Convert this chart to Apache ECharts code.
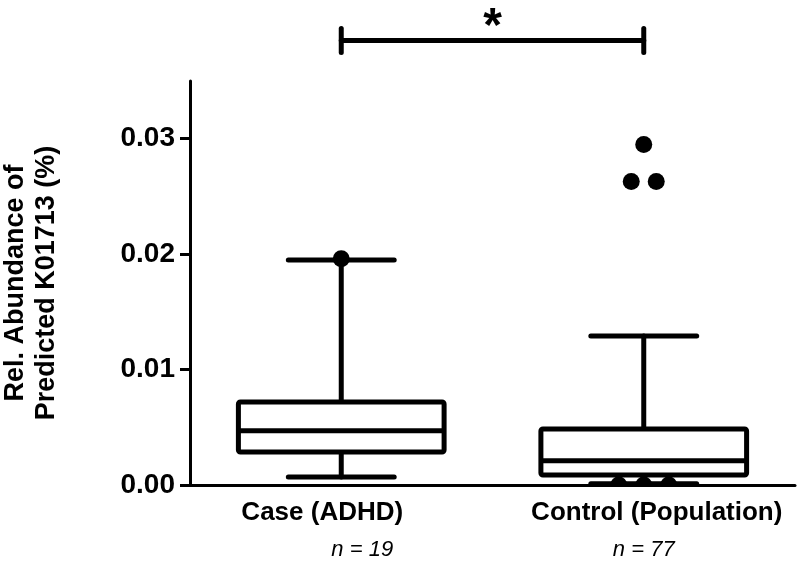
<!DOCTYPE html>
<html>
<head>
<meta charset="utf-8">
<script src="https://cdn.jsdelivr.net/npm/echarts@6/dist/echarts.min.js"></script>
<style>
html,body{margin:0;padding:0;background:#fff;}
#chart{width:800px;height:577px;}
</style>
</head>
<body>
<div id="chart"></div>
<script>
// ---- data ----
const categories = ['Case (ADHD)', 'Control (Population)'];
const groupSizes = ['n = 19', 'n = 77'];
// [lower whisker, Q1, median, Q3, upper whisker]
const caseBox = [0.0007, 0.00286, 0.0047, 0.0072, 0.0195];
const controlBox = [0.0001, 0.00087, 0.0021, 0.00486, 0.0129];
// outliers: [category index, value]
const outlierPoints = [[0, 0.0196], [1, 0.0295], [1, 0.0263], [1, 0.0263], [1, 0], [1, 0], [1, 0]];
const outlierJitter = [0, 0, -0.5, 0.5, -1, 0, 1];
const yTickValues = [0, 0.01, 0.02, 0.03];
const yMax = 0.035;
// significance bracket between categories 0 and 1
const sigPair = [0, 1];
const sigLevel = 0.0385;
const sigText = '*';

const FONT = '"Liberation Sans", Arial, sans-serif';
const chart = echarts.init(document.getElementById('chart'), null, {renderer: 'canvas'});

const boxData = [caseBox, controlBox].map((s, i) => [i].concat(s));
const outlierData = outlierPoints.map((p, k) => [p[0], p[1], outlierJitter[k]]);

function renderBox(params, api) {
  const i = api.value(0);
  const x = api.coord([i, 0])[0];
  const band = api.size([1, 0])[0];
  const boxW = band * 0.68, capW = band * 0.35;
  const y = [1, 2, 3, 4, 5].map(d => api.coord([i, api.value(d)])[1]);
  const st = {stroke: '#000', lineWidth: 5, lineCap: 'round', fill: null};
  return {
    type: 'group',
    children: [
      {type: 'line', shape: {x1: x, y1: y[4], x2: x, y2: y[3]}, style: st},
      {type: 'line', shape: {x1: x, y1: y[1], x2: x, y2: y[0]}, style: st},
      {type: 'line', shape: {x1: x - capW / 2, y1: y[4], x2: x + capW / 2, y2: y[4]}, style: st},
      {type: 'line', shape: {x1: x - capW / 2, y1: y[0], x2: x + capW / 2, y2: y[0]}, style: st},
      {type: 'rect', shape: {x: x - boxW / 2, y: y[3], width: boxW, height: y[1] - y[3], r: 2},
        style: {stroke: '#000', lineWidth: 5, fill: '#fff', lineJoin: 'round'}},
      {type: 'line', shape: {x1: x - boxW / 2, y1: y[2], x2: x + boxW / 2, y2: y[2]}, style: {stroke: '#000', lineWidth: 5}}
    ]
  };
}

function renderOutlier(params, api) {
  const p = api.coord([api.value(0), api.value(1)]);
  return {
    type: 'circle',
    shape: {cx: p[0] + api.value(2) * 25, cy: p[1], r: 8.5},
    style: {fill: '#000'}
  };
}

function renderSig(params, api) {
  const a = api.coord([api.value(0), api.value(2)]);
  const b = api.coord([api.value(1), api.value(2)]);
  const st = {stroke: '#000', lineWidth: 5, lineCap: 'round'};
  return {
    type: 'group',
    children: [
      {type: 'line', shape: {x1: a[0], y1: a[1], x2: b[0], y2: b[1]}, style: st},
      {type: 'line', shape: {x1: a[0], y1: a[1] - 12, x2: a[0], y2: a[1] + 12}, style: st},
      {type: 'line', shape: {x1: b[0], y1: b[1] - 12, x2: b[0], y2: b[1] + 12}, style: st},
      {type: 'text', x: (a[0] + b[0]) / 2, y: a[1] - 13,
        style: {text: sigText, font: 'bold 48px ' + FONT, fill: '#000', align: 'center', verticalAlign: 'middle'}}
    ]
  };
}

chart.setOption({
  animation: false,
  backgroundColor: '#fff',
  grid: {left: 190, right: 5, top: 81, bottom: 92, containLabel: false, outerBoundsMode: 'none'},
  xAxis: [{
    type: 'category',
    data: [
      {value: categories[0], textStyle: {padding: [0, 38, 0, 0]}},
      {value: categories[1], textStyle: {padding: [0, 0, 0, 26]}}
    ],
    position: 'bottom',
    axisLine: {lineStyle: {color: '#000', width: 3}},
    axisTick: {alignWithLabel: true, length: 10, lineStyle: {color: '#000', width: 3}},
    axisLabel: {interval: 0, color: '#000', fontSize: 26, fontWeight: 'bold', fontFamily: FONT, margin: 15},
    splitLine: {show: false}
  }, {
    type: 'category',
    data: [
      {value: groupSizes[0], textStyle: {padding: [0, 0, 0, 42]}},
      {value: groupSizes[1], textStyle: {padding: [0, 0, 0, 0]}}
    ],
    position: 'bottom',
    offset: 52,
    axisLine: {show: false},
    axisTick: {show: false},
    axisLabel: {interval: 0, color: '#000', fontSize: 22, fontStyle: 'italic', fontFamily: FONT, margin: 2},
    splitLine: {show: false}
  }],
  yAxis: {
    type: 'value',
    min: 0,
    max: yMax,
    name: 'Rel. Abundance of\nPredicted K01713 (%)',
    nameLocation: 'middle',
    nameRotate: 90,
    nameGap: 128,
    nameTextStyle: {color: '#000', fontSize: 27, fontWeight: 'bold', fontFamily: FONT, lineHeight: 31},
    axisLine: {show: true, lineStyle: {color: '#000', width: 3}},
    axisTick: {show: true, length: 10, customValues: yTickValues, lineStyle: {color: '#000', width: 3}},
    axisLabel: {color: '#000', fontSize: 28, fontWeight: 'bold', fontFamily: FONT, margin: 15,
      customValues: yTickValues, formatter: v => v.toFixed(2)},
    splitLine: {show: false}
  },
  series: [{
    type: 'custom',
    xAxisIndex: 0,
    renderItem: renderBox,
    encode: {x: 0, y: [1, 2, 3, 4, 5]},
    data: boxData,
    z: 2
  }, {
    type: 'custom',
    xAxisIndex: 0,
    renderItem: renderOutlier,
    encode: {x: 0, y: 1},
    data: outlierData,
    clip: true,
    z: 3
  }, {
    type: 'custom',
    xAxisIndex: 0,
    renderItem: renderSig,
    encode: {x: [0, 1], y: 2},
    data: [[sigPair[0], sigPair[1], sigLevel]],
    clip: false,
    z: 3
  }]
});
</script>
</body>
</html>
